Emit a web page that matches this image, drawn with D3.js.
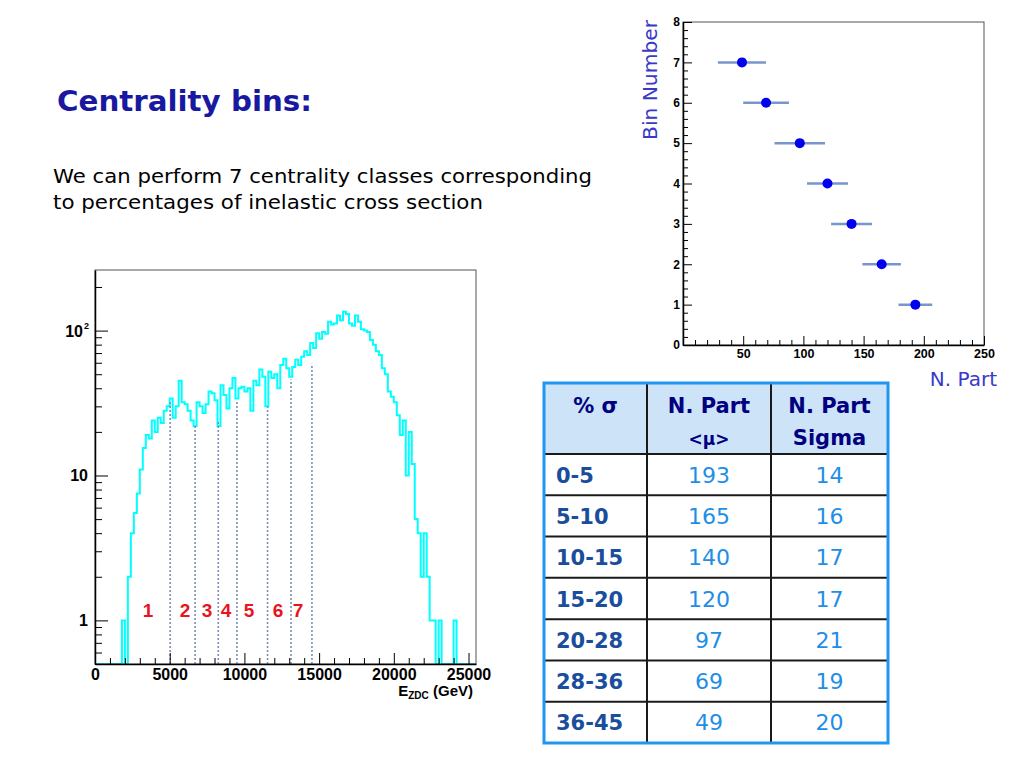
<!DOCTYPE html>
<html>
<head>
<meta charset="utf-8">
<script src="https://cdn.jsdelivr.net/npm/d3@7"></script>
<style>
body { margin: 0; background: #ffffff; }
svg { display: block; }
</style>
</head>
<body>
<div id="screen"></div>
<script>

// ZDC energy spectrum, counts per 200 GeV bin starting at 0 GeV
var binWidth = 200;
var zdcCounts = [
    0, 0, 0, 0, 0, 0, 0, 0, 0, 1,
    0, 2, 4, 5.5, 7.5, 11, 15.5, 19, 18, 24,
    20, 25, 23, 28, 30, 34, 25, 30, 45, 32,
    31, 28, 24, 22, 32, 30, 27, 31, 38, 37,
    33, 22, 42, 36, 29, 40, 47, 34, 40, 41,
    38, 40, 28, 45, 42, 54, 48, 30, 52, 47,
    50, 40, 58, 64, 55, 48, 56, 63, 58, 66,
    72, 68, 82, 76, 96, 88, 98, 95, 115, 110,
    112, 127, 118, 135, 130, 112, 108, 127, 115, 102,
    100, 98, 86, 80, 72, 68, 55, 50, 38, 35,
    32, 26, 19, 24, 10, 20, 12, 5, 4, 2,
    4, 2, 1, 1, 0, 1, 0, 0, 0, 0,
    1, 0, 0, 0, 0, 0, 0, 0
];

// centrality cuts (GeV) and the height the dotted line reaches
var cutEnergy = [5030, 6700, 8250, 9500, 11550, 13120, 14520];
var cutTop = [32, 22, 24, 33, 30, 46, 59];
var classLabels = ["1", "2", "3", "4", "5", "6", "7"];
var labelEnergy = [3550, 6020, 7500, 8770, 10310, 12250, 13590];

var histMajorX = [0, 5000, 10000, 15000, 20000, 25000];
var histMajorY = [1, 10, 100];

// N. Part per bin
var binNumber = [1, 2, 3, 4, 5, 6, 7];
var nPartMean = [193, 165, 140, 120, 97, 69, 49];
var nPartSigma = [14, 16, 17, 17, 21, 19, 20];
var sigmaClasses = ["0-5", "5-10", "10-15", "15-20", "20-28", "28-36", "36-45"];

var scatterMajorX = [50, 100, 150, 200, 250];
var scatterMajorY = [0, 1, 2, 3, 4, 5, 6, 7, 8];

var slideFont = "'DejaVu Sans', sans-serif";
var rootFont = "'Liberation Sans', Arial, sans-serif";

var svg = d3.select("#screen").append("svg")
    .attr("width", 1024).attr("height", 768);

// ---- slide texts ----
svg.append("text")
    .attr("x", 57).attr("y", 111)
    .attr("font-family", slideFont).attr("font-weight", "bold")
    .attr("font-size", 29).attr("fill", "#1818a0")
    .attr("textLength", 255).attr("lengthAdjust", "spacingAndGlyphs")
    .text("Centrality bins:");

svg.append("text")
    .attr("x", 53).attr("y", 183)
    .attr("font-family", slideFont).attr("font-size", 19).attr("fill", "#000")
    .attr("textLength", 539).attr("lengthAdjust", "spacingAndGlyphs")
    .text("We can perform 7 centrality classes corresponding");

svg.append("text")
    .attr("x", 53).attr("y", 209)
    .attr("font-family", slideFont).attr("font-size", 19).attr("fill", "#000")
    .attr("textLength", 430).attr("lengthAdjust", "spacingAndGlyphs")
    .text("to percentages of inelastic cross section");

// ---- histogram ----
var hx = d3.scaleLinear().domain([0, 25500]).range([95, 476]);
var hy = d3.scaleLog().domain([0.5, 262]).range([664, 270]).clamp(true);

var hist = svg.append("g");

hist.append("clipPath").attr("id", "histClip")
    .append("rect").attr("x", 95).attr("y", 270).attr("width", 381).attr("height", 394);

var steps = zdcCounts.map((c, i) => [i * binWidth, c > 0 ? c : 0.5]);
steps.push([zdcCounts.length * binWidth, 0.5]);

var histLine = d3.line()
    .x(d => hx(d[0]))
    .y(d => hy(d[1]))
    .curve(d3.curveStepAfter);

hist.append("path")
    .attr("d", histLine(steps))
    .attr("fill", "none")
    .attr("stroke", "#00ffff")
    .attr("stroke-width", 2)
    .attr("clip-path", "url(#histClip)");

// centrality cut lines
hist.selectAll(".cut").data(cutEnergy).enter().append("line")
    .attr("x1", d => hx(d)).attr("x2", d => hx(d))
    .attr("y1", 664).attr("y2", (d, i) => hy(cutTop[i]))
    .attr("stroke", "#7d8db5").attr("stroke-width", 1.6)
    .attr("stroke-dasharray", "2,2");

hist.selectAll(".lab").data(classLabels).enter().append("text")
    .attr("x", (d, i) => hx(labelEnergy[i])).attr("y", 617)
    .attr("text-anchor", "middle")
    .attr("font-family", rootFont).attr("font-weight", "bold")
    .attr("font-size", 19).attr("fill", "#e8141e")
    .text(d => d);

// frame
hist.append("rect")
    .attr("x", 95).attr("y", 270).attr("width", 381).attr("height", 394)
    .attr("fill", "none").attr("stroke", "#555").attr("stroke-width", 1);

var minorY = [];
[0.1, 1, 10, 100].forEach(dec => {
    for (var k = 2; k <= 9; k++) {
        var v = dec * k;
        if (v >= 0.5 && v <= 262 && histMajorY.indexOf(v) < 0) minorY.push(v);
    }
});

hist.append("g").attr("transform", "translate(95,0)")
    .call(d3.axisLeft(hy).tickValues(minorY).tickSize(-7).tickSizeOuter(0).tickFormat(""))
    .call(g => g.select(".domain").remove());

var yAxisG = hist.append("g").attr("transform", "translate(95,0)")
    .call(d3.axisLeft(hy).tickValues(histMajorY).tickSize(-13).tickSizeOuter(0).tickFormat(""));
yAxisG.select(".domain").attr("stroke", "#000").attr("stroke-width", 1.5);

hist.selectAll(".ylab").data(histMajorY).enter().append("text")
    .attr("x", d => d === 100 ? 83 : 88)
    .attr("y", d => hy(d) + 6)
    .attr("text-anchor", "end")
    .attr("font-family", rootFont).attr("font-weight", "bold")
    .attr("font-size", 16).attr("fill", "#000")
    .text(d => d === 100 ? "10" : String(d));
hist.append("text")
    .attr("x", 84).attr("y", hy(100) - 2)
    .attr("font-family", rootFont).attr("font-weight", "bold")
    .attr("font-size", 9).attr("fill", "#000")
    .text("2");

var minorX = d3.range(1000, 25500, 1000).filter(v => v % 5000 !== 0);
hist.append("g").attr("transform", "translate(0,664)")
    .call(d3.axisBottom(hx).tickValues(minorX).tickSize(-6).tickSizeOuter(0).tickFormat(""))
    .call(g => g.select(".domain").remove());

var xAxisG = hist.append("g").attr("transform", "translate(0,664)")
    .call(d3.axisBottom(hx).tickValues(histMajorX).tickSize(-11).tickSizeOuter(0)
        .tickPadding(5).tickFormat(d3.format("d")));
xAxisG.select(".domain").attr("stroke", "#000").attr("stroke-width", 1.5);
xAxisG.selectAll("text")
    .attr("font-family", rootFont).attr("font-weight", "bold")
    .attr("font-size", 16).attr("fill", "#000");

var xTitle = hist.append("text")
    .attr("x", 473).attr("y", 696).attr("text-anchor", "end")
    .attr("font-family", rootFont).attr("font-weight", "bold")
    .attr("font-size", 15).attr("fill", "#000");
xTitle.append("tspan").text("E");
xTitle.append("tspan").attr("font-size", 10).attr("dy", 3).text("ZDC");
xTitle.append("tspan").attr("dy", -3).text(" (GeV)");

// ---- N. Part vs bin number ----
var sx = d3.scaleLinear().domain([0, 250]).range([683, 984]);
var sy = d3.scaleLinear().domain([0, 8]).range([345, 22]);

var sc = svg.append("g");

sc.append("rect")
    .attr("x", 683).attr("y", 22).attr("width", 301).attr("height", 323)
    .attr("fill", "none").attr("stroke", "#555").attr("stroke-width", 1);

var sMinorY = d3.range(0, 8.01, 0.2).filter(v => Math.abs(v - Math.round(v)) > 0.01);
sc.append("g").attr("transform", "translate(683,0)")
    .call(d3.axisLeft(sy).tickValues(sMinorY).tickSize(-5).tickSizeOuter(0).tickFormat(""))
    .call(g => g.select(".domain").remove());

var syAxis = sc.append("g").attr("transform", "translate(683,0)")
    .call(d3.axisLeft(sy).tickValues(scatterMajorY).tickSize(-9).tickSizeOuter(0).tickPadding(3));
syAxis.select(".domain").attr("stroke", "#000").attr("stroke-width", 1.5);
syAxis.selectAll("text")
    .attr("font-family", rootFont).attr("font-weight", "bold")
    .attr("font-size", 12).attr("fill", "#000");

var sMinorX = d3.range(10, 250, 10).filter(v => v % 50 !== 0);
sc.append("g").attr("transform", "translate(0,345)")
    .call(d3.axisBottom(sx).tickValues(sMinorX).tickSize(-5).tickSizeOuter(0).tickFormat(""))
    .call(g => g.select(".domain").remove());

var sxAxis = sc.append("g").attr("transform", "translate(0,345)")
    .call(d3.axisBottom(sx).tickValues(scatterMajorX).tickSize(-9).tickSizeOuter(0).tickPadding(4));
sxAxis.select(".domain").attr("stroke", "#000").attr("stroke-width", 1.5);
sxAxis.selectAll("text")
    .attr("font-family", rootFont).attr("font-weight", "bold")
    .attr("font-size", 12.5).attr("fill", "#000");

sc.selectAll(".err").data(binNumber).enter().append("line")
    .attr("x1", (d, i) => sx(nPartMean[i] - nPartSigma[i]))
    .attr("x2", (d, i) => sx(nPartMean[i] + nPartSigma[i]))
    .attr("y1", d => sy(d)).attr("y2", d => sy(d))
    .attr("stroke", "#7896cc").attr("stroke-width", 2.5);

sc.selectAll(".pt").data(binNumber).enter().append("circle")
    .attr("cx", (d, i) => sx(nPartMean[i]))
    .attr("cy", d => sy(d))
    .attr("r", 5)
    .attr("fill", "#0000f0");

sc.append("text")
    .attr("transform", "translate(657,80) rotate(-90)")
    .attr("text-anchor", "middle")
    .attr("font-family", slideFont).attr("font-size", 20).attr("fill", "#3a3ac8")
    .attr("textLength", 120).attr("lengthAdjust", "spacingAndGlyphs")
    .text("Bin Number");

sc.append("text")
    .attr("x", 997).attr("y", 386).attr("text-anchor", "end")
    .attr("font-family", slideFont).attr("font-size", 20).attr("fill", "#3a3ac8")
    .text("N. Part");

// ---- table ----
var colEdges = [544, 647, 771, 888];
var headTop = 383, headBottom = 454, tableBottom = 743;
var rowH = (tableBottom - headBottom) / sigmaClasses.length;

var tb = svg.append("g");

tb.append("rect")
    .attr("x", colEdges[0]).attr("y", headTop)
    .attr("width", colEdges[3] - colEdges[0]).attr("height", headBottom - headTop)
    .attr("fill", "#cce3f8");

sigmaClasses.forEach((c, i) => {
    var y = headBottom + (i + 1) * rowH;
    if (i < sigmaClasses.length - 1) {
        tb.append("line")
            .attr("x1", colEdges[0]).attr("x2", colEdges[3])
            .attr("y1", y).attr("y2", y)
            .attr("stroke", "#1a1a1a").attr("stroke-width", 2);
    }
});
tb.append("line")
    .attr("x1", colEdges[0]).attr("x2", colEdges[3])
    .attr("y1", headBottom).attr("y2", headBottom)
    .attr("stroke", "#1a1a1a").attr("stroke-width", 2);
[colEdges[1], colEdges[2]].forEach(x => {
    tb.append("line")
        .attr("x1", x).attr("x2", x)
        .attr("y1", headTop).attr("y2", tableBottom)
        .attr("stroke", "#1a1a1a").attr("stroke-width", 2);
});
tb.append("rect")
    .attr("x", colEdges[0]).attr("y", headTop)
    .attr("width", colEdges[3] - colEdges[0]).attr("height", tableBottom - headTop)
    .attr("fill", "none").attr("stroke", "#2196f0").attr("stroke-width", 3);

var headers = [["% σ"], ["N. Part", "<μ>"], ["N. Part", "Sigma"]];
headers.forEach((lines, c) => {
    var cx = (colEdges[c] + colEdges[c + 1]) / 2;
    lines.forEach((t, k) => {
        tb.append("text")
            .attr("x", cx).attr("y", k === 0 ? 413 : 445)
            .attr("text-anchor", "middle")
            .attr("font-family", slideFont).attr("font-weight", "bold")
            .attr("font-size", t === "<μ>" ? 17 : 21).attr("fill", "#000080")
            .text(t);
    });
});

sigmaClasses.forEach((c, i) => {
    var cy = headBottom + (i + 0.5) * rowH + 8;
    tb.append("text")
        .attr("x", 556).attr("y", cy)
        .attr("font-family", slideFont).attr("font-weight", "bold")
        .attr("font-size", 21).attr("fill", "#1a4d9c")
        .text(c);
    tb.append("text")
        .attr("x", (colEdges[1] + colEdges[2]) / 2).attr("y", cy)
        .attr("text-anchor", "middle")
        .attr("font-family", slideFont).attr("font-size", 22).attr("fill", "#1e8ee6")
        .text(nPartMean[i]);
    tb.append("text")
        .attr("x", (colEdges[2] + colEdges[3]) / 2).attr("y", cy)
        .attr("text-anchor", "middle")
        .attr("font-family", slideFont).attr("font-size", 22).attr("fill", "#1e8ee6")
        .text(nPartSigma[i]);
});

</script>
</body>
</html>
